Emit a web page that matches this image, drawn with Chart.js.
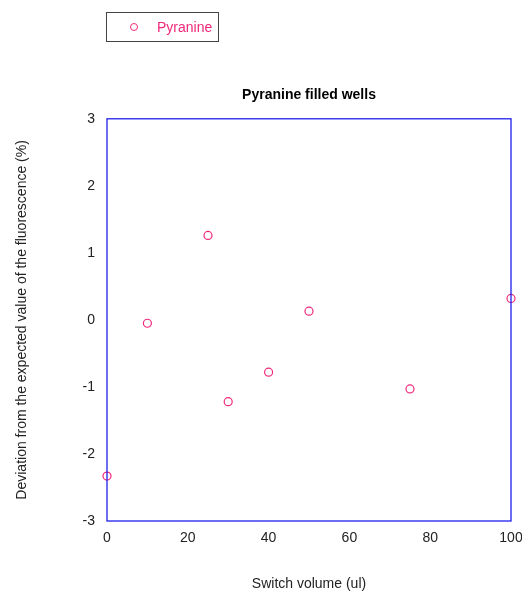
<!DOCTYPE html>
<html>
<head>
<meta charset="utf-8">
<script src="https://cdn.jsdelivr.net/npm/chart.js@4"></script>
<style>
  html, body { margin: 0; padding: 0; background: #fff; }
  #wrap { position: relative; width: 522px; height: 591px; }
  #legend {
    position: absolute; left: 106px; top: 12px; width: 111px; height: 28px;
    border: 1px solid #444; font: 14px "Liberation Sans", Arial, sans-serif;
    color: #f0287a; box-sizing: content-box;
  }
  #legend .mark {
    position: absolute; left: 23px; top: 10px; width: 6px; height: 6px;
    border: 1.3px solid #f0287a; border-radius: 50%;
  }
  #legend .txt { position: absolute; left: 50px; top: 6px; }
</style>
</head>
<body>
<div id="wrap">
  <canvas id="chart" width="522" height="591"></canvas>
  <div id="legend"><span class="mark"></span><span class="txt">Pyranine</span></div>
</div>
<script>
const seriesName = "Pyranine";
const switchVolume = [0, 10, 25, 30, 40, 50, 75, 100];
const deviation = [-2.33, -0.05, 1.26, -1.22, -0.78, 0.13, -1.03, 0.32];
const xTicks = [0, 20, 40, 60, 80, 100];
const yTicks = [-3, -2, -1, 0, 1, 2, 3];

const pink = "#f0287a";
const font = "'Liberation Sans', Arial, sans-serif";

// blue frame around the plot area
const frame = {
    id: "frame",
    afterDatasetsDraw(chart) {
        const a = chart.chartArea;
        const c = chart.ctx;
        c.save();
        c.strokeStyle = "#2020ee";
        c.lineWidth = 1.3;
        c.strokeRect(a.left, a.top, a.right - a.left, a.bottom - a.top);
        c.restore();
    }
};

new Chart(document.getElementById("chart"), {
    type: "scatter",
    data: {
        datasets: [{
            label: seriesName,
            data: switchVolume.map((x, i) => ({ x: x, y: deviation[i] })),
            pointRadius: 4,
            pointBorderWidth: 1.2,
            borderColor: pink,
            backgroundColor: "rgba(255,255,255,0)",
            clip: false
        }]
    },
    options: {
        responsive: false,
        animation: false,
        layout: { padding: { top: 0, right: 11, bottom: 0, left: 0 } },
        plugins: {
            legend: { display: false },
            tooltip: { enabled: false },
            title: {
                display: true,
                text: "Pyranine filled wells",
                fullSize: false,
                color: "#000",
                font: { family: font, size: 14, weight: "bold" },
                padding: { top: 87, bottom: 15 }
            }
        },
        scales: {
            x: {
                type: "linear",
                min: 0, max: 100,
                afterBuildTicks(s) { s.ticks = xTicks.map(v => ({ value: v })); },
                afterFit(s) { s.height = 70; s.paddingLeft = 0; s.paddingRight = 0; },
                grid: { display: false, drawTicks: false },
                border: { display: false },
                ticks: { color: "#222", font: { family: font, size: 14 }, padding: 9 },
                title: {
                    display: true, text: "Switch volume (ul)", color: "#222",
                    font: { family: font, size: 14 }, padding: { top: 0, bottom: -2 }
                }
            },
            y: {
                type: "linear",
                min: -3, max: 3,
                afterBuildTicks(s) { s.ticks = yTicks.map(v => ({ value: v })); },
                afterFit(s) { s.width = 107; },
                grid: { display: false, drawTicks: false },
                border: { display: false },
                ticks: { color: "#222", font: { family: font, size: 14 }, padding: 12 },
                title: {
                    display: true, text: "Deviation from the expected value of the fluorescence (%)",
                    color: "#222", font: { family: font, size: 14 }, padding: { top: 14, bottom: 0 }
                }
            }
        }
    },
    plugins: [frame]
});
</script>
</body>
</html>
